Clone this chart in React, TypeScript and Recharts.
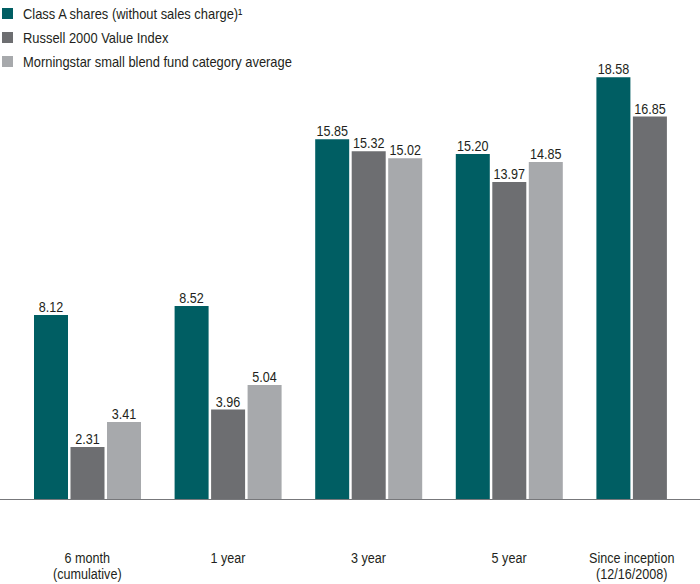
import { BarChart, Bar, XAxis, YAxis, LabelList, Legend } from "recharts";

const categories = [
  "6 month\n(cumulative)",
  "1 year",
  "3 year",
  "5 year",
  "Since inception\n(12/16/2008)",
];
const classA = [8.12, 8.52, 15.85, 15.2, 18.58];
const russell = [2.31, 3.96, 15.32, 13.97, 16.85];
const morningstar: (number | null)[] = [3.41, 5.04, 15.02, 14.85, null];

const seriesNames = [
  "Class A shares (without sales charge)\u00b9",
  "Russell 2000 Value Index",
  "Morningstar small blend fund category average",
];
const colors = ["#005e63", "#6d6e71", "#a7a9ac"];

const data = categories.map((name, i) => ({
  name,
  classA: classA[i],
  russell: russell[i],
  morningstar: morningstar[i],
}));

// the original uses a condensed face, so squeeze a regular one horizontally
const FONT = "'Liberation Sans', Arial, sans-serif";
const SQUEEZE = 0.84;
const TEXT = "#231f20";

const CategoryTick = (props: any) => {
  const { x, y, payload, index } = props;
  const lines = String(payload.value).split("\n");
  // the last group has only two bars, so its label sits left of the slot centre
  const cx = index === categories.length - 1 ? x - 18 : x;
  return (
    <text
      transform={`translate(${cx} ${y + 63}) scale(${SQUEEZE} 1)`}
      textAnchor="middle"
      fill={TEXT}
      fontSize={15}
      fontFamily={FONT}
    >
      {lines.map((l, i) => (
        <tspan key={i} x={0} dy={i === 0 ? 0 : 17}>
          {l}
        </tspan>
      ))}
    </text>
  );
};

const ValueLabel = (props: any) => {
  const { x, y, width, value } = props;
  if (value == null) return null;
  return (
    <text
      transform={`translate(${x + width / 2} ${y - 3}) scale(${SQUEEZE} 1)`}
      textAnchor="middle"
      fill={TEXT}
      fontSize={15}
      fontFamily={FONT}
    >
      {Number(value).toFixed(2)}
    </text>
  );
};

const LegendBox = () => (
  <div style={{ fontFamily: FONT, fontSize: 15, color: TEXT }}>
    {seriesNames.map((n, i) => (
      <div key={n} style={{ display: "flex", alignItems: "center", height: 24, whiteSpace: "nowrap" }}>
        <span
          style={{
            width: 11,
            height: 11,
            background: colors[i],
            marginLeft: 1.5,
            marginRight: 10,
            display: "inline-block",
            flex: "none",
          }}
        />
        <span style={{ display: "inline-block", transform: "scaleX(0.86)", transformOrigin: "left center" }}>
          {n}
        </span>
      </div>
    ))}
  </div>
);

export default function App() {
  return (
    <div style={{ width: 700, height: 584, overflow: "hidden", position: "relative" }}>
      <style>{"body{margin:0}"}</style>
      <BarChart
        width={720}
        height={584}
        data={data}
        margin={{ top: 45, right: 0, left: 0, bottom: 0 }}
        barGap={2.5}
      >
        <XAxis
          dataKey="name"
          interval={0}
          padding={{ left: 17, right: 0 }}
          axisLine={{ stroke: "#77787b", strokeWidth: 1 }}
          tickLine={false}
          tickSize={0}
          tickMargin={0}
          height={84.5}
          tick={<CategoryTick />}
        />
        <YAxis hide domain={[0, 20]} />
        <Legend
          layout="vertical"
          align="center"
          verticalAlign="middle"
          wrapperStyle={{ top: 1, left: 0, width: "auto" }}
          content={<LegendBox />}
        />
        <Bar dataKey="classA" fill={colors[0]} barSize={34} isAnimationActive={false}>
          <LabelList dataKey="classA" content={<ValueLabel />} />
        </Bar>
        <Bar dataKey="russell" fill={colors[1]} barSize={34} isAnimationActive={false}>
          <LabelList dataKey="russell" content={<ValueLabel />} />
        </Bar>
        <Bar dataKey="morningstar" fill={colors[2]} barSize={34} isAnimationActive={false}>
          <LabelList dataKey="morningstar" content={<ValueLabel />} />
        </Bar>
      </BarChart>
    </div>
  );
}
